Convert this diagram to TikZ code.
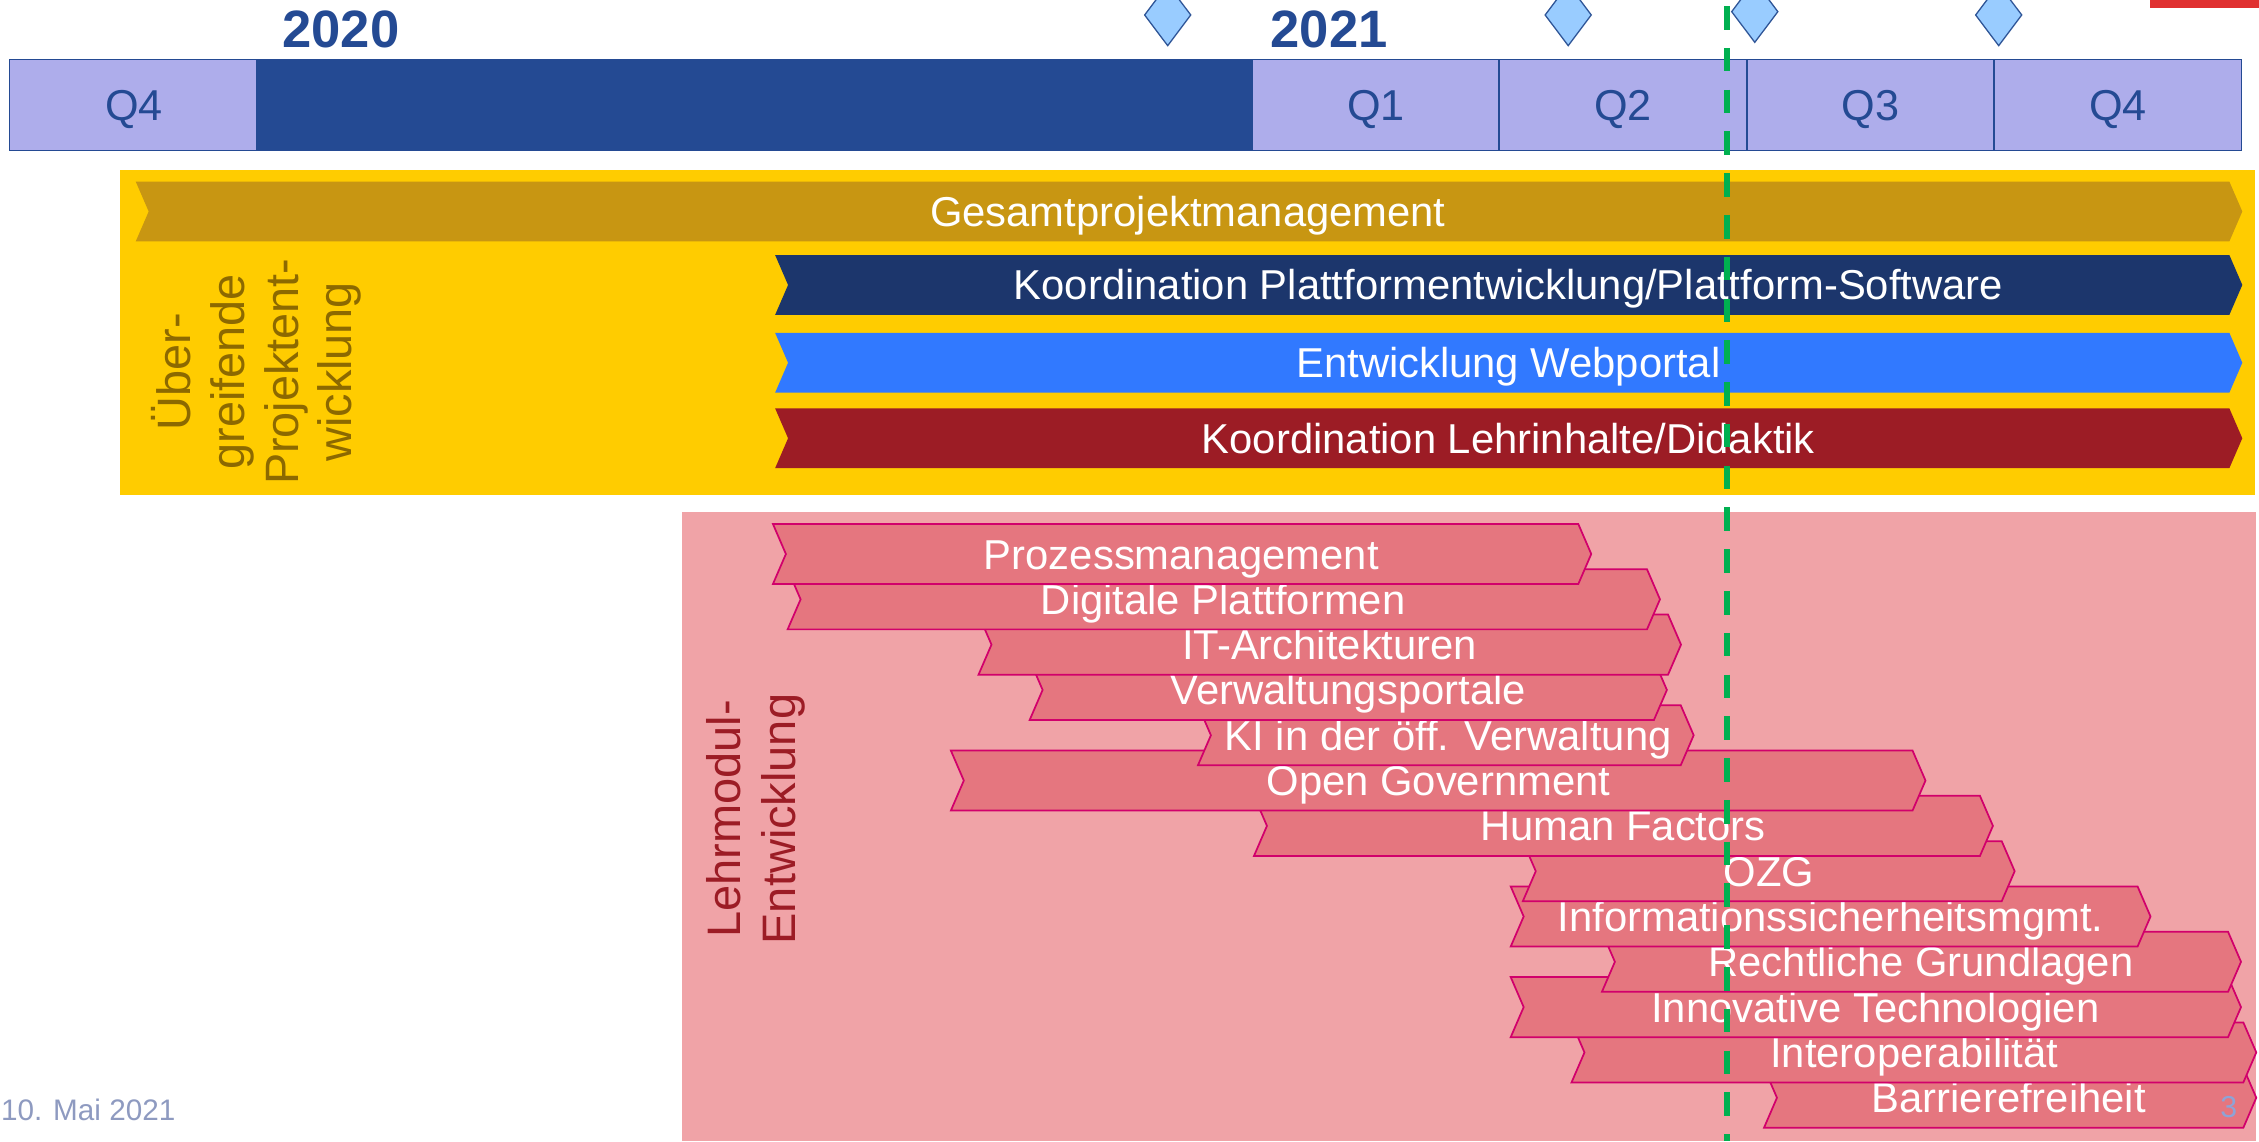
\documentclass[tikz,border=0pt]{standalone}
\usepackage{fontspec}
\setmainfont{Liberation Sans}
\definecolor{tdark}{HTML}{244A93}
\definecolor{lav}{HTML}{AEADEB}
\definecolor{diafill}{HTML}{99CCFF}
\definecolor{diaedge}{HTML}{2F5597}
\definecolor{ygold}{HTML}{FFCC00}
\definecolor{gbar}{HTML}{C89612}
\definecolor{navybar}{HTML}{1C366C}
\definecolor{bluebar}{HTML}{3179FF}
\definecolor{redbarc}{HTML}{9C1C25}
\definecolor{ytext}{HTML}{8C6900}
\definecolor{pinkbg}{HTML}{F0A3A7}
\definecolor{pinkfill}{HTML}{E5767F}
\definecolor{pinkedge}{HTML}{D1006B}
\definecolor{greendash}{HTML}{00B050}
\definecolor{topred}{HTML}{E03030}
\definecolor{datec}{HTML}{8E9AC0}
\definecolor{pagec}{HTML}{8EA3D6}
% pink chevron: name, left, right(top corner), top, text x, text
\newcommand{\pinkchev}[6]{%
  \path[pinkbar] (#2,#4) -- (#3,#4) -- ({#3+9},{#4+20.85}) -- (#3,{#4+41.7})
    -- (#2,{#4+41.7}) -- ({#2+9},{#4+20.85}) -- cycle;
  \node[bartext] (#1) at (#5,{#4+31.25}) {#6};
}
% yellow-panel chevron: name, colour, left, right, top, text x, text
\newcommand{\ychev}[7]{%
  \fill[#2] (#3,#5) -- (#4,#5) -- ({#4+9},{#5+20.8}) -- (#4,{#5+41.6})
    -- (#3,{#5+41.6}) -- ({#3+9},{#5+20.8}) -- cycle;
  \node[bartext] (#1) at (#6,{#5+31.2}) {#7};
}
\newcommand{\msdiamond}[2]{%
  \filldraw[diam] (#1,{#2-21.3}) -- ({#1+16},#2) -- (#1,{#2+21.3}) -- ({#1-16},#2) -- cycle;
}
\begin{document}
\begin{tikzpicture}[x=1pt,y=-1pt,
  bartext/.style={text=white, font={\fontsize{29}{33}\selectfont}, anchor=base, inner sep=0pt},
  qtext/.style={text=tdark, font={\fontsize{30}{34}\selectfont}, anchor=base, inner sep=0pt},
  yeartext/.style={text=tdark, font={\fontsize{36.5}{40}\selectfont\bfseries}, anchor=base, inner sep=0pt},
  pinkbar/.style={fill=pinkfill, draw=pinkedge, line width=1.2pt, line join=miter},
  diam/.style={fill=diafill, draw=diaedge, line width=0.9pt},
  vlabel/.style={rotate=90, align=center, inner sep=0pt, anchor=center}
]
\useasboundingbox (0,0) rectangle (1568,792);

% ---------- timeline ----------
\fill[lav] (6.5,41.2) rectangle (177.7,104.5);
\fill[tdark] (177.7,41.2) rectangle (869.7,104.5);
\fill[lav] (869.7,41.2) rectangle (1556,104.5);
\draw[tdark, line width=1pt] (6.5,41.2) rectangle (1556,104.5);
\foreach \xx in {1040.5,1212.5,1384} \draw[tdark, line width=0.9pt] (\xx,41.2) -- (\xx,104.5);
\node[qtext] (q4a) at (93,83.3) {Q4};
\node[qtext] (q1) at (955,83.3) {Q1};
\node[qtext] (q2) at (1126.5,83.3) {Q2};
\node[qtext] (q3) at (1298.3,83.3) {Q3};
\node[qtext] (q4b) at (1470,83.3) {Q4};
\node[yeartext] (y2020) at (236.7,33.3) {2020};
\node[yeartext] (y2021) at (922.6,33.3) {2021};

% milestones
\msdiamond{810.5}{10.4}
\msdiamond{1088.5}{10.4}
\msdiamond{1218}{8.1}
\msdiamond{1387.3}{10.4}

% red mark top right
\fill[topred] (1492,0) rectangle (1568,5.8);

% ---------- yellow panel ----------
\fill[ygold] (83.6,118) rectangle (1565.3,343.6);
\ychev{gesamt}{gbar}{94.2}{1547.4}{126}{824.5}{Gesamtprojektmanagement}
\ychev{koord}{navybar}{538}{1547.4}{177}{1047}{Koordination Plattformentwicklung/Plattform-Software}
\ychev{webportal}{bluebar}{538}{1547.4}{231}{1047}{Entwicklung Webportal}
\ychev{lehrinh}{redbarc}{538}{1547.4}{283.4}{1047}{Koordination Lehrinhalte/Didaktik}
\node[vlabel, text=ytext, font={\fontsize{32.5}{37.3}\selectfont}] (uebergreifend) at (178.1,258)
  {Über-\\greifende\\Projektent-\\wicklung};

% ---------- pink panel ----------
\fill[pinkbg] (473.4,355.2) rectangle (1566,792);
\node[vlabel, text=redbarc, font={\fontsize{32.6}{38}\selectfont}] (lehrmodul) at (524.5,568.5)
  {Lehrmodul-\\Entwicklung};

\pinkchev{barriere}{1224.4}{1557.1}{741.1}{1394.3}{Barrierefreiheit}
\pinkchev{interop}{1090.8}{1557.1}{709.65}{1328.7}{Interoperabilität}
\pinkchev{innov}{1048.6}{1546.5}{678.2}{1301.7}{Innovative Technologien}
\pinkchev{recht}{1111.9}{1546.5}{646.75}{1333.4}{Rechtliche Grundlagen}
\pinkchev{infosec}{1048.6}{1483.7}{615.3}{1270.6}{Informationssicherheitsmgmt.}
\pinkchev{ozg}{1057}{1389.4}{583.85}{1228}{OZG}
\pinkchev{human}{870.4}{1374.3}{552.4}{1126.4}{Human Factors}
\pinkchev{opengov}{660}{1327.5}{520.95}{998.4}{Open Government}
\pinkchev{ki}{831.5}{1166.6}{489.5}{1005.2}{KI in der öff. Verwaltung}
\pinkchev{verwport}{714.7}{1148}{458.05}{935.8}{Verwaltungsportale}
\pinkchev{itarch}{679.2}{1157.8}{426.6}{923}{IT-Architekturen}
\pinkchev{digplatt}{546.7}{1143.2}{395.15}{849}{Digitale Plattformen}
\pinkchev{prozess}{536.5}{1095.5}{363.7}{820}{Prozessmanagement}

% ---------- footer ----------
\node[anchor=base west, inner sep=0pt, text=datec, font={\fontsize{20.6}{24}\selectfont}] (date) at (0.5,777.4) {10. Mai 2021};
\node[anchor=base east, inner sep=0pt, text=pagec, font={\fontsize{21}{24}\selectfont}] (pagenum) at (1553,776) {3};

% ---------- today line ----------
\coordinate (todaytop) at (1198.7,4.2);
\coordinate (todaybot) at (1198.7,792);
\draw[greendash, line width=3.8pt, dash pattern=on 16.4pt off 12.6pt] (todaytop) -- (todaybot);
\end{tikzpicture}
\end{document}
